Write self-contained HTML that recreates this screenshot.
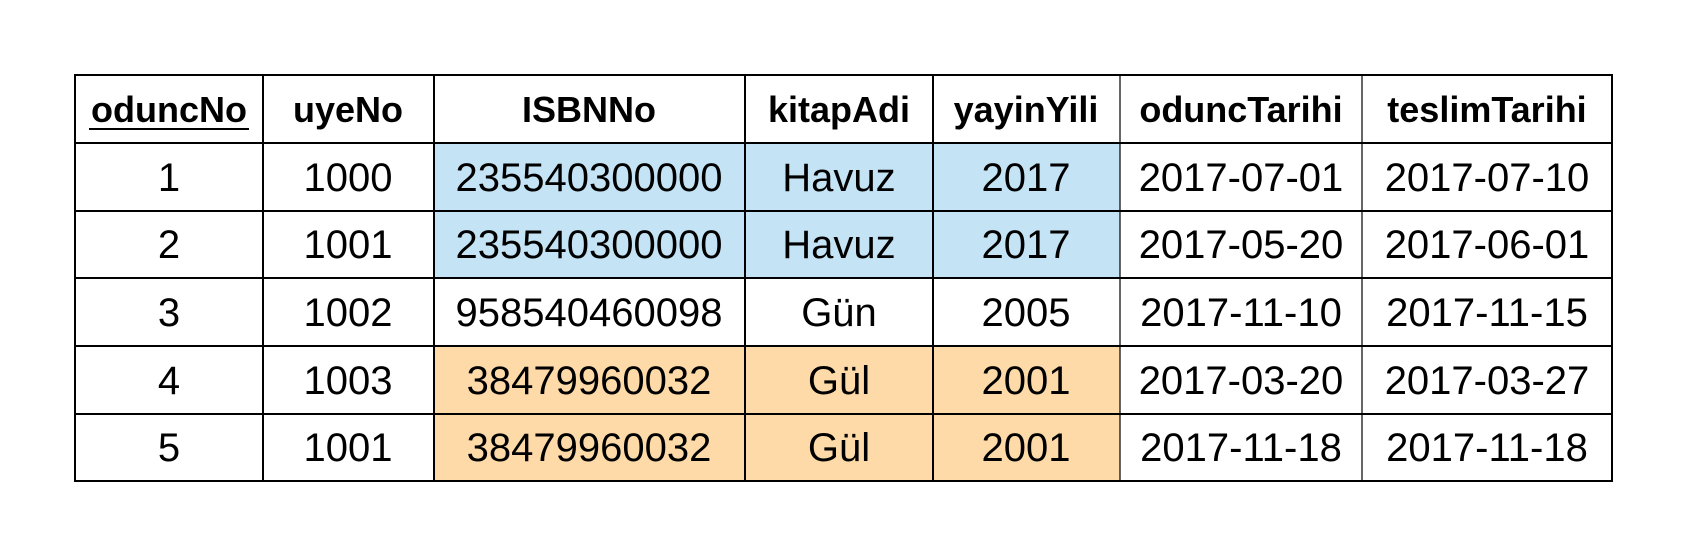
<!DOCTYPE html>
<html><head><meta charset="utf-8"><style>
html,body{margin:0;padding:0;background:#fff;}
svg{display:block;}
text{font-family:"Liberation Sans",sans-serif;}
</style></head><body>
<svg width="1688" height="557" viewBox="0 0 1688 557" xmlns="http://www.w3.org/2000/svg">
<rect width="1688" height="557" fill="#fff"/>
<rect x="434" y="143" width="686" height="135" fill="#c4e4f6"/>
<rect x="434" y="346" width="686" height="135" fill="#fddaa8"/>
<g stroke="#000" stroke-width="2" fill="none">
<rect x="75" y="75" width="1537" height="406"/>
<line x1="75" y1="143" x2="1612" y2="143"/>
<line x1="75" y1="211" x2="1612" y2="211"/>
<line x1="75" y1="278" x2="1612" y2="278"/>
<line x1="75" y1="346" x2="1612" y2="346"/>
<line x1="75" y1="414" x2="1612" y2="414"/>
<line x1="263" y1="75" x2="263" y2="481"/>
<line x1="434" y1="75" x2="434" y2="481"/>
<line x1="745" y1="75" x2="745" y2="481"/>
<line x1="933" y1="75" x2="933" y2="481"/>
</g>
<g stroke="#000" stroke-width="1.2">
<line x1="1120" y1="75" x2="1120" y2="481"/>
<line x1="1362" y1="75" x2="1362" y2="481"/>
</g>
<g font-size="36" font-weight="bold" text-anchor="middle" fill="#000">
<text x="169" y="122">oduncNo</text>
<text x="348" y="122">uyeNo</text>
<text x="589" y="122">ISBNNo</text>
<text x="839" y="122">kitapAdi</text>
<text x="1026" y="122">yayinYili</text>
<text x="1241" y="122">oduncTarihi</text>
<text x="1487" y="122">teslimTarihi</text>
</g>
<line x1="89" y1="129" x2="249" y2="129" stroke="#000" stroke-width="2"/>
<g font-size="40" text-anchor="middle" fill="#000">
<text x="169" y="191">1</text><text x="348" y="191">1000</text><text x="589" y="191">235540300000</text><text x="839" y="191">Havuz</text><text x="1026" y="191">2017</text><text x="1241" y="191">2017-07-01</text><text x="1487" y="191">2017-07-10</text>
<text x="169" y="258">2</text><text x="348" y="258">1001</text><text x="589" y="258">235540300000</text><text x="839" y="258">Havuz</text><text x="1026" y="258">2017</text><text x="1241" y="258">2017-05-20</text><text x="1487" y="258">2017-06-01</text>
<text x="169" y="326">3</text><text x="348" y="326">1002</text><text x="589" y="326">958540460098</text><text x="839" y="326">Gün</text><text x="1026" y="326">2005</text><text x="1241" y="326">2017-11-10</text><text x="1487" y="326">2017-11-15</text>
<text x="169" y="394">4</text><text x="348" y="394">1003</text><text x="589" y="394">38479960032</text><text x="839" y="394">Gül</text><text x="1026" y="394">2001</text><text x="1241" y="394">2017-03-20</text><text x="1487" y="394">2017-03-27</text>
<text x="169" y="461">5</text><text x="348" y="461">1001</text><text x="589" y="461">38479960032</text><text x="839" y="461">Gül</text><text x="1026" y="461">2001</text><text x="1241" y="461">2017-11-18</text><text x="1487" y="461">2017-11-18</text>
</g>
</svg>
</body></html>
